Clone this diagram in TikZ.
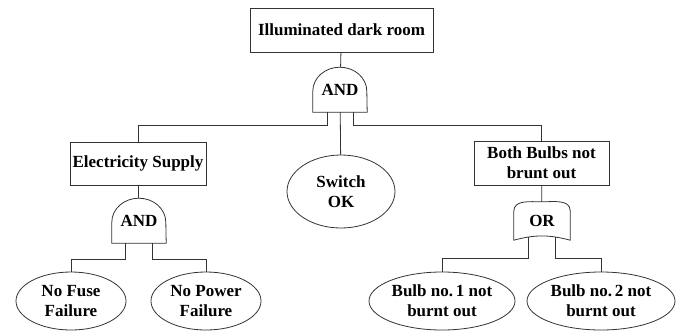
\documentclass[tikz,border=0pt]{standalone}
\usepackage{fontspec}
\setmainfont{Liberation Serif}
\usetikzlibrary{shapes.geometric}
% gate outlines drawn round a named node
\newcommand{\andshape}[1]{\draw[gateline] (#1.south west) -- ++(0pt,21pt) arc[start angle=180,end angle=0,x radius=27pt,y radius=24pt] -- (#1.south east) -- cycle;}
\newcommand{\orshape}[1]{\draw[gateline] (#1.south west) -- ++(0pt,29pt) to[out=90,in=180] (#1.north) to[out=0,in=90] ([yshift=-9pt]#1.north east) -- (#1.south east) to[out=165,in=15] (#1.south west) -- cycle;}
\begin{document}
\begin{tikzpicture}[x=1pt,y=-1pt,font=\fontsize{17}{20}\selectfont\bfseries,
  line/.style={line width=0.8pt,draw=black!80},
  gateline/.style={line width=0.8pt,draw=black!80},
  event/.style={line, rectangle, inner sep=0pt, align=center},
  basic/.style={line, ellipse, inner sep=0pt, align=center},
  gate/.style={inner sep=0pt, minimum width=54pt}]
\useasboundingbox (0,0) rectangle (683,333);
\node[event, minimum width=183pt, minimum height=44pt](top) at (341.5,30) {Illuminated dark room};
\node[gate, minimum height=45pt](andtop) at (340,89.5) {AND};
\node[event, minimum width=136pt, minimum height=43pt](supply) at (138,163.5) {Electricity Supply};
\node[basic, minimum width=108pt, minimum height=73pt](switch) at (341,191.5) {Switch\\OK};
\node[event, minimum width=135pt, minimum height=44pt](bulbs) at (541.5,163) {Both Bulbs not\\brunt out};
\node[gate, minimum height=45pt](andsup) at (139,220.5) {AND};
\node[gate, minimum width=56pt, minimum height=38pt](orbulb) at (542,221) {OR};
\node[basic, minimum width=110pt, minimum height=58pt](fuse) at (71,301) {No Fuse\\Failure};
\node[basic, minimum width=110pt, minimum height=58pt](power) at (206,301) {No Power\\Failure};
\node[basic, minimum width=146pt, minimum height=58pt](bulbone) at (442,301) {Bulb no.\,1 not\\burnt out};
\node[basic, minimum width=148pt, minimum height=58pt](bulbtwo) at (601,301) {Bulb no.\,2 not\\burnt out};
\andshape{andtop}
\andshape{andsup}
\orshape{orbulb}
\draw[line] (top) -- (andtop);
\draw[line] ([xshift=-13pt]andtop.south) -- ++(0pt,-13pt) -| (supply.north);
\draw[line] (andtop) -- (switch);
\draw[line] ([xshift=13pt]andtop.south) -- ++(0pt,-13pt) -| (bulbs.north);
\draw[line] (supply) -- (andsup);
\draw[line] ([xshift=-13.5pt]andsup.south) -- ++(0pt,-16pt) -| (fuse.north);
\draw[line] ([xshift=13.5pt]andsup.south) -- ++(0pt,-16pt) -| (power.north);
\draw[line] (bulbs) -- (orbulb);
\draw[line] ([xshift=-13.5pt,yshift=3pt]orbulb.south) -- ++(0pt,-21pt) -| (bulbone.north);
\draw[line] ([xshift=13.5pt,yshift=3pt]orbulb.south) -- ++(0pt,-21pt) -| (bulbtwo.north);
\end{tikzpicture}
\end{document}
